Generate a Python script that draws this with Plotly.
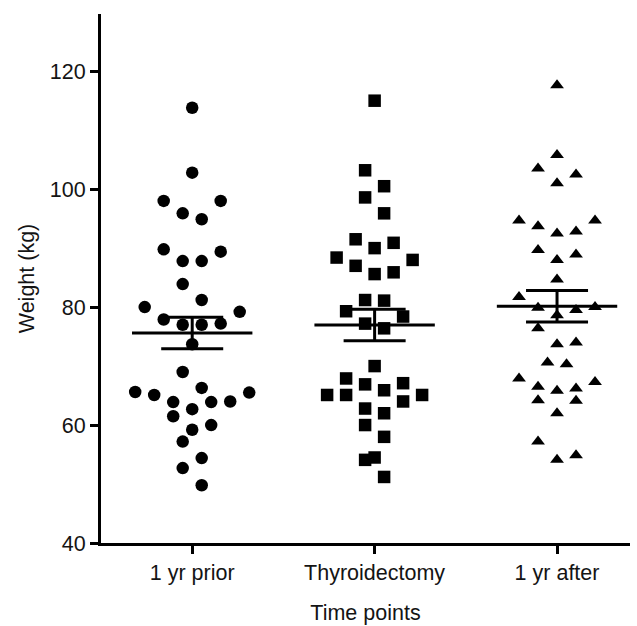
import numpy as np
import plotly.graph_objects as go

# ---------------- data ----------------
categories = ["1 yr prior", "Thyroidectomy", "1 yr after"]

weight_1yr_prior = [113.8, 102.8, 98.0, 98.0, 95.9, 94.9, 89.4, 89.8, 87.8, 87.8,
                    83.9, 81.2, 80.0, 79.2, 77.9, 77.0, 77.0, 77.2, 73.7, 69.0,
                    66.3, 65.5, 65.6, 65.1, 64.0, 63.9, 63.9, 62.7, 61.5, 60.0,
                    59.2, 57.2, 54.4, 52.7, 49.8]

weight_thyroidectomy = [115.0, 103.2, 100.5, 98.6, 95.9, 91.5, 90.9, 90.0, 88.4, 88.0,
                        87.0, 85.9, 85.6, 81.2, 81.1, 79.3, 78.4, 77.2, 76.4, 70.0,
                        67.9, 67.1, 66.9, 65.9, 65.1, 65.1, 65.1, 64.0, 62.8, 62.0,
                        60.0, 58.0, 54.5, 54.1, 51.2]

weight_1yr_after = [117.6, 105.8, 102.5, 103.5, 101.0, 94.7, 94.7, 93.7, 92.5, 92.8,
                    88.9, 89.7, 88.0, 84.7, 81.7, 80.0, 79.5, 79.9, 78.6, 76.4,
                    73.7, 74.0, 70.6, 70.3, 67.9, 67.3, 66.5, 65.8, 66.2, 64.1,
                    64.2, 62.0, 57.2, 54.1, 54.9]

y_tick_values = [40, 60, 80, 100, 120]

groups = [weight_1yr_prior, weight_thyroidectomy, weight_1yr_after]
symbols = ["circle", "square", "triangle-up"]
marker_sizes = [12.5, 12.5, 12]

# ---------------- layout constants ----------------
W, H = 637, 626
ML, MR, MT, MB = 101, 7, 14, 83
X_RANGE = [-0.5, 2.4]
Y_RANGE = [40, 129.7]
PX_PER_X = (W - ML - MR) / (X_RANGE[1] - X_RANGE[0])
FONT = "Liberation Sans, Arial, sans-serif"
FS = 21.5
TXT = "#141414"


def swarm_offsets(vals, row_h=3.2, step_px=19.0):
    """Prism-like column scatter: group sorted values into rows, spread each row."""
    vals = np.asarray(vals, dtype=float)
    order = np.argsort(vals, kind="stable")
    rows, cur, start = [], [], None
    for idx in order:
        if start is None or vals[idx] - start > row_h:
            if cur:
                rows.append(cur)
            cur, start = [idx], vals[idx]
        else:
            cur.append(idx)
    if cur:
        rows.append(cur)
    off = np.zeros(len(vals))
    for row in rows:
        n = len(row)
        if n % 2:
            slots = [0.0]
            for k in range(1, n // 2 + 1):
                slots += [k, -k]
        else:
            slots = []
            for k in range(n // 2):
                slots += [k + 0.5, -(k + 0.5)]
        for idx, s in zip(row, slots):
            off[idx] = s * step_px / PX_PER_X
    return off


fig = go.Figure()

for i, (vals, sym, ms) in enumerate(zip(groups, symbols, marker_sizes)):
    v = np.asarray(vals, dtype=float)
    xs = i + swarm_offsets(v)
    fig.add_trace(go.Scatter(
        x=xs, y=v, mode="markers",
        marker=dict(symbol=sym, size=ms, color="black", line=dict(width=0)),
        showlegend=False, hoverinfo="y"))

for i, vals in enumerate(groups):
    v = np.asarray(vals, dtype=float)
    m = v.mean()
    s = v.std(ddof=1) / np.sqrt(len(v))
    fig.add_trace(go.Scatter(
        x=[i - 0.33, i + 0.33, None, i - 0.17, i + 0.17, None,
           i - 0.17, i + 0.17, None, i, i],
        y=[m, m, None, m + s, m + s, None, m - s, m - s, None, m - s, m + s],
        mode="lines", line=dict(color="black", width=3),
        showlegend=False, hoverinfo="skip"))

fig.update_layout(
    width=W, height=H,
    margin=dict(l=ML, r=MR, t=MT, b=MB, autoexpand=False),
    paper_bgcolor="white", plot_bgcolor="white",
    font=dict(family=FONT, size=FS, color=TXT),
    xaxis=dict(
        range=X_RANGE, tickmode="array", tickvals=list(range(len(categories))),
        ticktext=categories, showgrid=False, zeroline=False,
        showline=True, linecolor="black", linewidth=3,
        ticks="outside", ticklen=8, tickwidth=3, tickcolor="black",
        tickfont=dict(family=FONT, size=FS, color=TXT),
        title=dict(text="Time points", standoff=22,
                   font=dict(family=FONT, size=FS, color=TXT)),
        automargin=False, fixedrange=True),
    yaxis=dict(
        range=Y_RANGE, tickmode="array", tickvals=y_tick_values,
        showgrid=False, zeroline=False,
        showline=True, linecolor="black", linewidth=3,
        ticks="outside", ticklen=8, tickwidth=3, tickcolor="black",
        tickfont=dict(family=FONT, size=FS, color=TXT),
        title=dict(text="Weight (kg)", standoff=10,
                   font=dict(family=FONT, size=FS, color=TXT)),
        automargin=False, fixedrange=True),
)

fig.write_html("out.html")
